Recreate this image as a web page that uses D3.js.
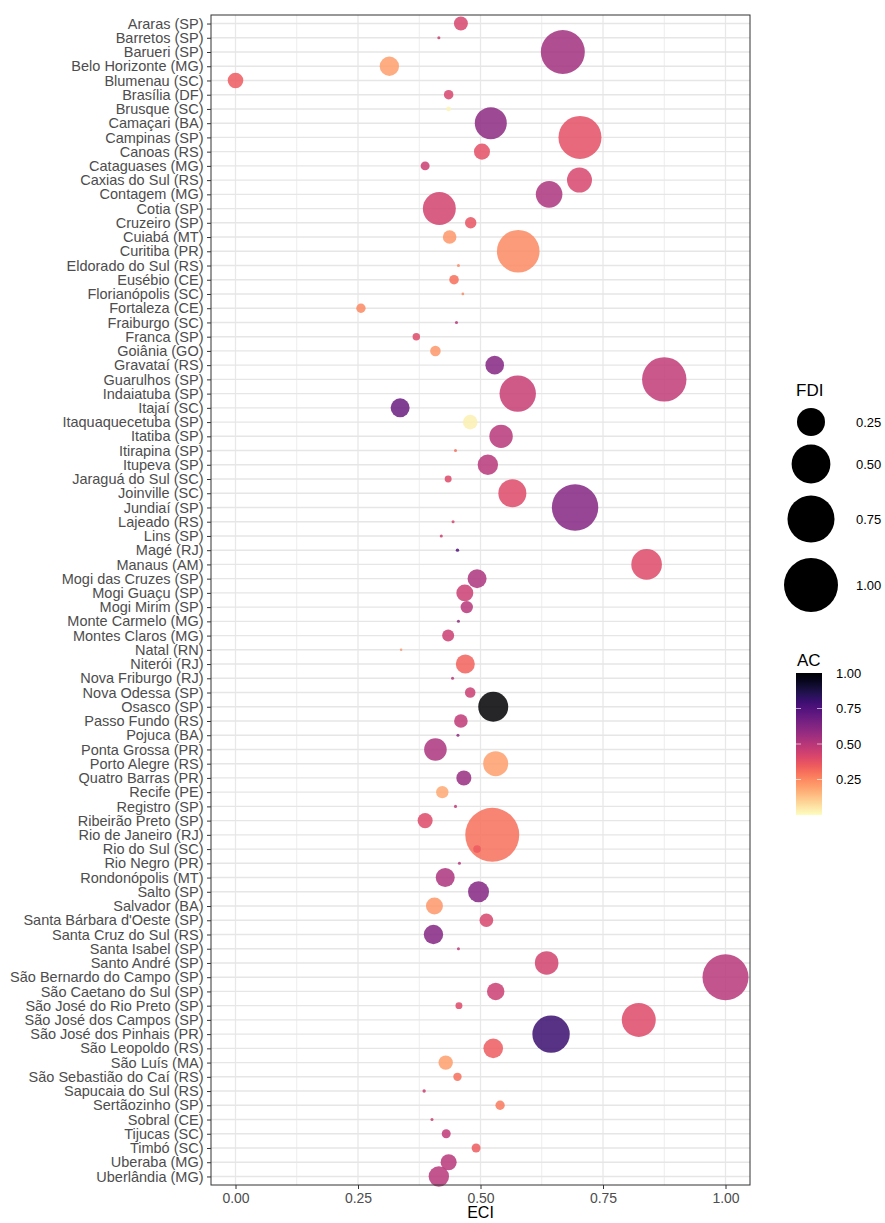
<!DOCTYPE html>
<html>
<head>
<meta charset="utf-8">
<script src="https://cdn.jsdelivr.net/npm/d3@7"></script>
<style>
  html, body { margin: 0; padding: 0; background: #fff; }
  svg { display: block; font-family: "Liberation Sans", Arial, sans-serif; }
</style>
</head>
<body>
<svg id="chart" width="885" height="1223"></svg>
<script>
// Municipalities (y categories)
const cities = [
  "Araras (SP)", "Barretos (SP)", "Barueri (SP)", "Belo Horizonte (MG)", "Blumenau (SC)",
  "Brasília (DF)", "Brusque (SC)", "Camaçari (BA)", "Campinas (SP)", "Canoas (RS)",
  "Cataguases (MG)", "Caxias do Sul (RS)", "Contagem (MG)", "Cotia (SP)", "Cruzeiro (SP)",
  "Cuiabá (MT)", "Curitiba (PR)", "Eldorado do Sul (RS)", "Eusébio (CE)", "Florianópolis (SC)",
  "Fortaleza (CE)", "Fraiburgo (SC)", "Franca (SP)", "Goiânia (GO)", "Gravataí (RS)",
  "Guarulhos (SP)", "Indaiatuba (SP)", "Itajaí (SC)", "Itaquaquecetuba (SP)", "Itatiba (SP)",
  "Itirapina (SP)", "Itupeva (SP)", "Jaraguá do Sul (SC)", "Joinville (SC)", "Jundiaí (SP)",
  "Lajeado (RS)", "Lins (SP)", "Magé (RJ)", "Manaus (AM)", "Mogi das Cruzes (SP)",
  "Mogi Guaçu (SP)", "Mogi Mirim (SP)", "Monte Carmelo (MG)", "Montes Claros (MG)", "Natal (RN)",
  "Niterói (RJ)", "Nova Friburgo (RJ)", "Nova Odessa (SP)", "Osasco (SP)", "Passo Fundo (RS)",
  "Pojuca (BA)", "Ponta Grossa (PR)", "Porto Alegre (RS)", "Quatro Barras (PR)", "Recife (PE)",
  "Registro (SP)", "Ribeirão Preto (SP)", "Rio de Janeiro (RJ)", "Rio do Sul (SC)", "Rio Negro (PR)",
  "Rondonópolis (MT)", "Salto (SP)", "Salvador (BA)", "Santa Bárbara d'Oeste (SP)", "Santa Cruz do Sul (RS)",
  "Santa Isabel (SP)", "Santo André (SP)", "São Bernardo do Campo (SP)", "São Caetano do Sul (SP)", "São José do Rio Preto (SP)",
  "São José dos Campos (SP)", "São José dos Pinhais (PR)", "São Leopoldo (RS)", "São Luís (MA)", "São Sebastião do Caí (RS)",
  "Sapucaia do Sul (RS)", "Sertãozinho (SP)", "Sobral (CE)", "Tijucas (SC)", "Timbó (SC)",
  "Uberaba (MG)", "Uberlândia (MG)"
];

// Economic complexity index (x)
const eci = [
  0.460, 0.415, 0.668, 0.314, 0.000,
  0.435, 0.435, 0.521, 0.703, 0.503,
  0.387, 0.702, 0.640, 0.416, 0.480,
  0.437, 0.577, 0.455, 0.446, 0.464,
  0.256, 0.451, 0.369, 0.408, 0.529,
  0.875, 0.576, 0.336, 0.479, 0.542,
  0.449, 0.515, 0.434, 0.565, 0.693,
  0.444, 0.420, 0.453, 0.839, 0.493,
  0.468, 0.472, 0.455, 0.434, 0.338,
  0.469, 0.443, 0.479, 0.526, 0.460,
  0.454, 0.408, 0.531, 0.466, 0.422,
  0.449, 0.387, 0.524, 0.493, 0.457,
  0.428, 0.496, 0.406, 0.512, 0.404,
  0.455, 0.635, 1.000, 0.531, 0.456,
  0.823, 0.644, 0.526, 0.429, 0.453,
  0.385, 0.540, 0.401, 0.430, 0.491,
  0.435, 0.415
];

// Foreign direct investment (bubble size)
const fdi = [
  0.053, 0.0004, 0.652, 0.112, 0.068,
  0.021, 0.003, 0.333, 0.622, 0.073,
  0.018, 0.196, 0.224, 0.355, 0.033,
  0.050, 0.610, 0.0004, 0.021, 0.0002,
  0.020, 0.0004, 0.011, 0.027, 0.102,
  0.665, 0.438, 0.107, 0.059, 0.169,
  0.0004, 0.125, 0.009, 0.250, 0.729,
  0.0004, 0.0004, 0.0007, 0.303, 0.107,
  0.083, 0.040, 0.0004, 0.037, 0.0001,
  0.107, 0.0004, 0.027, 0.290, 0.050,
  0.0004, 0.157, 0.196, 0.063, 0.040,
  0.0004, 0.063, 1.000, 0.012, 0.0004,
  0.107, 0.134, 0.083, 0.050, 0.112,
  0.0004, 0.173, 0.716, 0.088, 0.009,
  0.379, 0.463, 0.115, 0.057, 0.015,
  0.0007, 0.020, 0.0004, 0.018, 0.018,
  0.073, 0.125
];

// Agglomeration (colour)
const ac = [
  0.42, 0.45, 0.55, 0.20, 0.35,
  0.42, 0.02, 0.60, 0.38, 0.38,
  0.45, 0.42, 0.52, 0.43, 0.37,
  0.22, 0.25, 0.25, 0.30, 0.25,
  0.25, 0.50, 0.40, 0.22, 0.62,
  0.47, 0.46, 0.68, 0.03, 0.50,
  0.30, 0.50, 0.40, 0.40, 0.62,
  0.42, 0.45, 0.75, 0.40, 0.52,
  0.45, 0.50, 0.60, 0.45, 0.22,
  0.33, 0.50, 0.45, 1.00, 0.48,
  0.60, 0.52, 0.20, 0.57, 0.18,
  0.48, 0.40, 0.30, 0.35, 0.50,
  0.52, 0.62, 0.22, 0.42, 0.62,
  0.48, 0.43, 0.50, 0.45, 0.40,
  0.40, 0.80, 0.35, 0.20, 0.30,
  0.45, 0.28, 0.45, 0.48, 0.35,
  0.50, 0.50
];

const xTicks = [0, 0.25, 0.5, 0.75, 1];
const xMinor = [0.125, 0.375, 0.625, 0.875];
const fdiBreaks = [0.25, 0.5, 0.75, 1];
const acBreaks = [0.25, 0.5, 0.75, 1];

const svg = d3.select("#chart");

const panel = { left: 211, right: 750, top: 15, bottom: 1185 };

const x = d3.scaleLinear().domain([-0.05, 1.05]).range([panel.left, panel.right]);
const y = d3.scalePoint().domain(cities).range([panel.top, panel.bottom]).padding(0.6);
const r = d3.scaleSqrt().domain([0, 1]).range([1, 27]);
const color = v => d3.interpolateMagma(1 - v);

const rows = cities.map((c, i) => ({ city: c, eci: eci[i], fdi: fdi[i], ac: ac[i] }));

// panel background and grid
svg.append("rect")
  .attr("x", panel.left).attr("y", panel.top)
  .attr("width", panel.right - panel.left).attr("height", panel.bottom - panel.top)
  .attr("fill", "#fff");

const grid = svg.append("g");
grid.selectAll("line.minor").data(xMinor).join("line")
  .attr("x1", d => x(d)).attr("x2", d => x(d))
  .attr("y1", panel.top).attr("y2", panel.bottom)
  .attr("stroke", "#ededed").attr("stroke-width", 1);
grid.selectAll("line.vmajor").data(xTicks).join("line")
  .attr("x1", d => x(d)).attr("x2", d => x(d))
  .attr("y1", panel.top).attr("y2", panel.bottom)
  .attr("stroke", "#e8e8e8").attr("stroke-width", 1.3);
grid.selectAll("line.hmajor").data(cities).join("line")
  .attr("x1", panel.left).attr("x2", panel.right)
  .attr("y1", d => y(d)).attr("y2", d => y(d))
  .attr("stroke", "#e6e6e6").attr("stroke-width", 1.4);

// bubbles, drawn in row order
svg.append("g").selectAll("circle").data(rows).join("circle")
  .attr("cx", d => x(d.eci))
  .attr("cy", d => y(d.city))
  .attr("r", d => r(d.fdi))
  .attr("fill", d => color(d.ac))
  .attr("fill-opacity", 0.85);

// panel border
svg.append("rect")
  .attr("x", panel.left).attr("y", panel.top)
  .attr("width", panel.right - panel.left).attr("height", panel.bottom - panel.top)
  .attr("fill", "none").attr("stroke", "#333").attr("stroke-width", 1);

// axes
const yAxis = svg.append("g")
  .attr("transform", `translate(${panel.left},0)`)
  .call(d3.axisLeft(y).tickSize(4).tickPadding(3.5));
yAxis.select(".domain").remove();
yAxis.selectAll(".tick line").attr("stroke", "#333");
yAxis.selectAll(".tick text")
  .attr("fill", "#4d4d4d").style("font-size", "14.5px")
  .style("font-family", "'Liberation Sans', Arial, sans-serif");

const xAxis = svg.append("g")
  .attr("transform", `translate(0,${panel.bottom})`)
  .call(d3.axisBottom(x).tickValues(xTicks).tickFormat(d3.format(".2f")).tickSize(4).tickPadding(4));
xAxis.select(".domain").remove();
xAxis.selectAll(".tick line").attr("stroke", "#333");
xAxis.selectAll(".tick text")
  .attr("fill", "#4d4d4d").style("font-size", "14px")
  .style("font-family", "'Liberation Sans', Arial, sans-serif");

svg.append("text")
  .attr("x", (panel.left + panel.right) / 2).attr("y", 1218)
  .attr("text-anchor", "middle").attr("fill", "#000")
  .style("font-size", "16px").text("ECI");

// FDI size legend
const sizeLeg = svg.append("g");
sizeLeg.append("text").attr("x", 796).attr("y", 396)
  .style("font-size", "17px").attr("fill", "#000").text("FDI");
const legY = [422, 464, 519, 585];
sizeLeg.selectAll("circle").data(fdiBreaks).join("circle")
  .attr("cx", 811).attr("cy", (d, i) => legY[i])
  .attr("r", d => r(d)).attr("fill", "#000");
sizeLeg.selectAll("text.lab").data(fdiBreaks).join("text")
  .attr("class", "lab")
  .attr("x", 856).attr("y", (d, i) => legY[i]).attr("dy", "0.35em")
  .style("font-size", "13px").attr("fill", "#000")
  .text(d => d3.format(".2f")(d));

// AC colour bar legend
const barX = 796, barW = 26, barTop = 673, barBot = 815;
const acScale = d3.scaleLinear().domain([0, 1]).range([barBot, barTop]);
const defs = svg.append("defs");
const grad = defs.append("linearGradient").attr("id", "acGrad")
  .attr("x1", 0).attr("y1", 1).attr("x2", 0).attr("y2", 0);
d3.range(0, 1.0001, 0.05).forEach(t => {
  grad.append("stop").attr("offset", t).attr("stop-color", color(t));
});
const colLeg = svg.append("g");
colLeg.append("text").attr("x", 797).attr("y", 666)
  .style("font-size", "17px").attr("fill", "#000").text("AC");
colLeg.append("rect").attr("x", barX).attr("y", barTop)
  .attr("width", barW).attr("height", barBot - barTop).attr("fill", "url(#acGrad)");
colLeg.selectAll("line.tl").data(acBreaks.filter(d => d < 1)).join("line")
  .attr("x1", barX).attr("x2", barX + 5)
  .attr("y1", d => acScale(d)).attr("y2", d => acScale(d))
  .attr("stroke", "#fff").attr("stroke-opacity", 0.6);
colLeg.selectAll("line.tr").data(acBreaks.filter(d => d < 1)).join("line")
  .attr("x1", barX + barW - 5).attr("x2", barX + barW)
  .attr("y1", d => acScale(d)).attr("y2", d => acScale(d))
  .attr("stroke", "#fff").attr("stroke-opacity", 0.6);
colLeg.selectAll("text.lab").data(acBreaks).join("text")
  .attr("class", "lab")
  .attr("x", 836).attr("y", d => acScale(d)).attr("dy", "0.35em")
  .style("font-size", "13px").attr("fill", "#000")
  .text(d => d3.format(".2f")(d));
</script>
</body>
</html>
